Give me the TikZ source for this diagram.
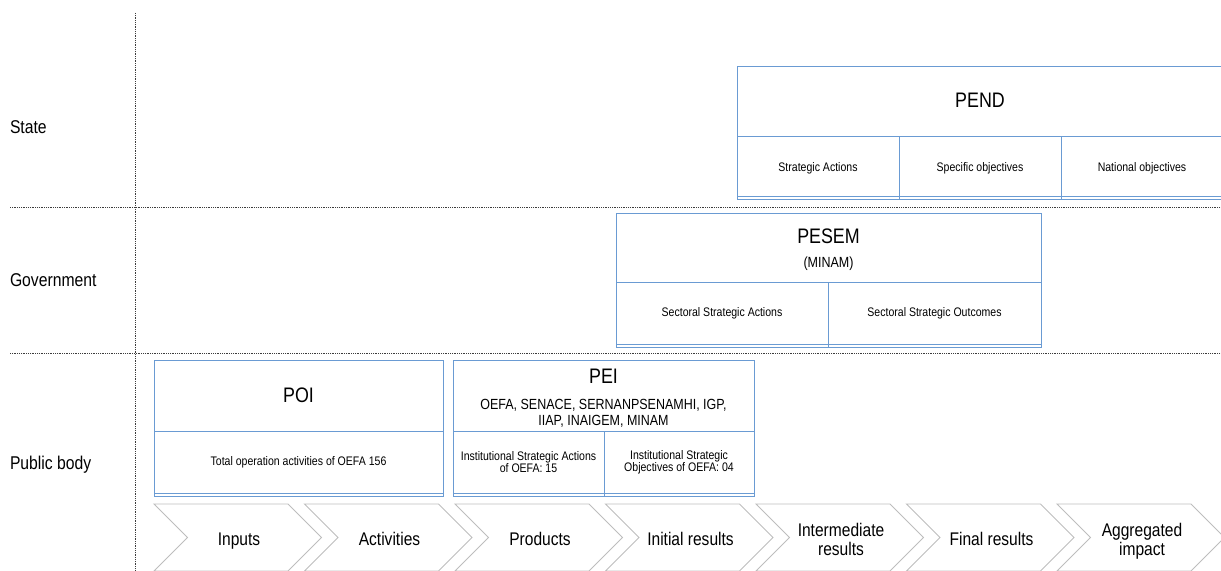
\documentclass[tikz,border=0pt]{standalone}
\usepackage{fontspec}
\setmainfont{Liberation Sans}[FakeStretch=0.85]
\definecolor{frame}{HTML}{6A9BD3}
\definecolor{chevron}{HTML}{BDBDBD}
\definecolor{rule}{HTML}{3C3C3C}
\newcommand{\rowfont}{\fontsize{18.5bp}{20bp}\selectfont}
\newcommand{\headfont}{\fontsize{21bp}{23bp}\selectfont}
\newcommand{\orgfont}{\fontsize{14.7bp}{16bp}\selectfont}
\newcommand{\cellfont}{\fontsize{12.4bp}{12.4bp}\selectfont}
\newcommand{\stagefont}{\fontsize{18.3bp}{19.5bp}\selectfont}
\tikzset{
  every node/.style={text=black,inner sep=0pt,outer sep=0pt},
  plan/.style={draw=frame,line width=1bp},
  divider/.style={draw=rule,line width=.8bp,densely dotted},
  stagebox/.style={draw=chevron,line width=.9bp},
  rowlabel/.style={font=\rowfont,anchor=west},
  head/.style={font=\headfont},
  org/.style={font=\orgfont,align=center},
  cell/.style={font=\cellfont,align=center},
  stagetext/.style={font=\stagefont,align=center,text depth=.25em}
}
\begin{document}
\begin{tikzpicture}[x=1bp,y=-1bp]

\path[use as bounding box] (0,0) rectangle (1221,571);
% Three levels split by dotted rules, labels on the left.
\draw[divider] (135,13) -- (135,571);
\draw[divider] (10,207) -- (1221,207);
\draw[divider] (10,353) -- (1221,353);
\node[rowlabel] (state) at (10,127) {State};
\node[rowlabel] (government) at (10,280) {Government};
\node[rowlabel] (public) at (10,465) {Public body};

% PEND, cut at the right edge
\draw[plan] (737,67) rectangle (1224,200);
\draw[plan] (737,197) -- (1224,197);
\draw[plan] (737,137) -- (1224,137);
\draw[plan] (899,137) -- (899,200);
\draw[plan] (1061,137) -- (1061,200);
\node[head] (pend) at (980,100) {PEND};
\node[cell] (pendact) at (818,168) {Strategic Actions};
\node[cell] (pendspec) at (980,168) {Specific objectives};
\node[cell] (pendnat) at (1142,168) {National objectives};

% PESEM
\draw[plan] (616,214) rectangle (1041,347);
\draw[plan] (616,344) -- (1041,344);
\draw[plan] (616,283) -- (1041,283);
\draw[plan] (828,283) -- (828,347);
\node[head] (pesem) at (828.5,236) {PESEM};
\node[org] (minam) at (828.5,264) {(MINAM)};
\node[cell] (pesemact) at (722,313) {Sectoral Strategic Actions};
\node[cell] (pesemout) at (934.5,313) {Sectoral Strategic Outcomes};

% POI and PEI
\draw[plan] (154,360) rectangle (443,496);
\draw[plan] (154,493) -- (443,493);
\draw[plan] (154,431) -- (443,431);
\node[head] (poi) at (298.5,395) {POI};
\node[cell] (poiact) at (298.5,462) {Total operation activities of OEFA 156};

\draw[plan] (453,360) rectangle (754,496);
\draw[plan] (453,493) -- (754,493);
\draw[plan] (453,431) -- (754,431);
\draw[plan] (604,431) -- (604,496);
\node[head] (pei) at (603.5,376) {PEI};
\node[org] (peiorg) at (603.5,413) {OEFA, SENACE, SERNANPSENAMHI, IGP,\\IIAP, INAIGEM, MINAM};
\node[cell] (peiact) at (528.5,462) {Institutional Strategic Actions\\of OEFA: 15};
\node[cell] (peiobj) at (679,462) {Institutional Strategic\\Objectives of OEFA: 04};

% Results chain
\foreach \name/\i/\txt in {inputs/0/Inputs,activities/1/Activities,products/2/Products,initial/3/Initial results,intermediate/4/{Intermediate\\results},final/5/Final results,impact/6/{Aggregated\\impact}}{
  \pgfmathsetmacro\x{154+150.5*\i}
  \draw[stagebox] (\x,504) -- ++(134,0) -- ++(33.5,33.5) -- ++(-33.5,33.5) -- ++(-134,0) -- ++(33.5,-33.5) -- cycle;
  \node[stagetext] (\name) at (\x+85,540.6) {\txt};
}
\end{tikzpicture}
\end{document}
